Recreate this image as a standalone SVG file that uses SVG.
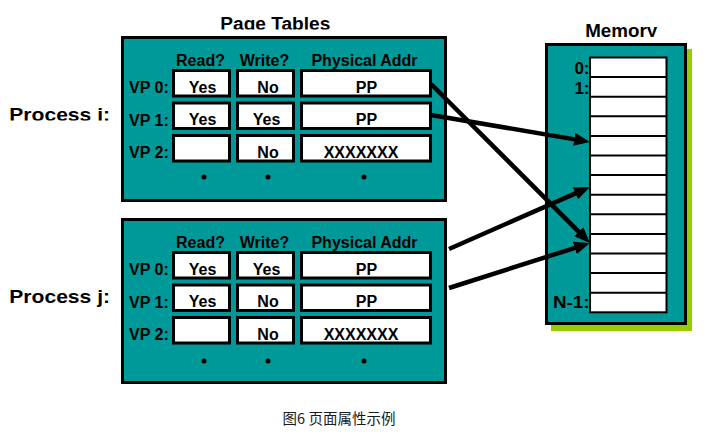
<svg xmlns="http://www.w3.org/2000/svg" width="712" height="437" viewBox="0 0 712 437">
<style>
.panel{fill:#009999;stroke:#000;stroke-width:3}
.cell{fill:#fff;stroke:#000;stroke-width:3}
.t{font-family:"Liberation Sans",Arial,sans-serif;font-weight:bold;fill:#000}
.s16{font-size:16px}
.c{text-anchor:middle}
.r{text-anchor:end}
.arrow{stroke:#000;stroke-width:4.5;fill:none;marker-end:url(#ah)}
.mem{fill:#fff;stroke:#000;stroke-width:2}
</style>
<defs>
<marker id="ah" markerUnits="userSpaceOnUse" markerWidth="16" markerHeight="13" refX="2" refY="6.5" orient="auto">
<path d="M0,0 L16,6.5 L0,13 z" fill="#000"/>
</marker>
<clipPath id="clipTitle"><rect x="0" y="0" width="712" height="29.5"/></clipPath>
<clipPath id="clipMem"><rect x="0" y="0" width="712" height="37"/></clipPath>
<clipPath id="clipPi"><rect x="0" y="90" width="130" height="30.5"/></clipPath>
</defs>

<rect width="712" height="437" fill="#fff"/>

<g id="title-page-tables">
<text class="t c" x="275.3" y="29.5" font-size="17.5" textLength="110" lengthAdjust="spacingAndGlyphs" clip-path="url(#clipTitle)">Page Tables</text>
</g>

<g id="label-process-i">
<text class="t" x="9.3" y="120.5" font-size="19" textLength="100.7" lengthAdjust="spacingAndGlyphs" clip-path="url(#clipPi)">Process i:</text>
</g>
<g id="label-process-j">
<text class="t" x="9.3" y="303" font-size="19" textLength="100.7" lengthAdjust="spacingAndGlyphs">Process j:</text>
</g>

<g id="page-table-i">
<rect class="panel" x="122.5" y="37.5" width="323" height="163"/>
<text class="t s16 c" x="200.5" y="66">Read?</text>
<text class="t s16 c" x="264.5" y="66">Write?</text>
<text class="t s16 c" x="364.5" y="66">Physical Addr</text>
<text class="t s16" x="129" y="93">VP 0:</text>
<text class="t s16" x="129" y="125.5">VP 1:</text>
<text class="t s16" x="129" y="158">VP 2:</text>
<rect class="cell" x="173.5" y="70.5" width="56" height="25.5"/>
<rect class="cell" x="237.5" y="70.5" width="56" height="25.5"/>
<rect class="cell" x="301.5" y="70.5" width="129" height="25.5"/>
<rect class="cell" x="173.5" y="103" width="56" height="25.5"/>
<rect class="cell" x="237.5" y="103" width="56" height="25.5"/>
<rect class="cell" x="301.5" y="103" width="129" height="25.5"/>
<rect class="cell" x="173.5" y="135.5" width="56" height="25.5"/>
<rect class="cell" x="237.5" y="135.5" width="56" height="25.5"/>
<rect class="cell" x="301.5" y="135.5" width="129" height="25.5"/>
<text class="t s16 c" x="202.5" y="92.5">Yes</text>
<text class="t s16 c" x="268" y="92.5">No</text>
<text class="t s16 c" x="366.5" y="92.5">PP</text>
<text class="t s16 c" x="202.5" y="125">Yes</text>
<text class="t s16 c" x="266.5" y="125">Yes</text>
<text class="t s16 c" x="366.5" y="125">PP</text>
<text class="t s16 c" x="268" y="157.5">No</text>
<text class="t s16 c" x="361" y="157.5">XXXXXXX</text>
<circle cx="204" cy="177" r="2.5" fill="#000"/>
<circle cx="268" cy="177" r="2.5" fill="#000"/>
<circle cx="364" cy="177" r="2.5" fill="#000"/>
</g>

<g id="page-table-j">
<rect class="panel" x="122.5" y="219.5" width="323" height="163"/>
<text class="t s16 c" x="200.5" y="248">Read?</text>
<text class="t s16 c" x="264.5" y="248">Write?</text>
<text class="t s16 c" x="364.5" y="248">Physical Addr</text>
<text class="t s16" x="129" y="275">VP 0:</text>
<text class="t s16" x="129" y="307.5">VP 1:</text>
<text class="t s16" x="129" y="340">VP 2:</text>
<rect class="cell" x="173.5" y="252.5" width="56" height="25.5"/>
<rect class="cell" x="237.5" y="252.5" width="56" height="25.5"/>
<rect class="cell" x="301.5" y="252.5" width="129" height="25.5"/>
<rect class="cell" x="173.5" y="285" width="56" height="25.5"/>
<rect class="cell" x="237.5" y="285" width="56" height="25.5"/>
<rect class="cell" x="301.5" y="285" width="129" height="25.5"/>
<rect class="cell" x="173.5" y="317.5" width="56" height="25.5"/>
<rect class="cell" x="237.5" y="317.5" width="56" height="25.5"/>
<rect class="cell" x="301.5" y="317.5" width="129" height="25.5"/>
<text class="t s16 c" x="202.5" y="274.5">Yes</text>
<text class="t s16 c" x="266.5" y="274.5">Yes</text>
<text class="t s16 c" x="366.5" y="274.5">PP</text>
<text class="t s16 c" x="202.5" y="307">Yes</text>
<text class="t s16 c" x="268" y="307">No</text>
<text class="t s16 c" x="366.5" y="307">PP</text>
<text class="t s16 c" x="268" y="339.5">No</text>
<text class="t s16 c" x="361" y="339.5">XXXXXXX</text>
<circle cx="204" cy="361" r="2.5" fill="#000"/>
<circle cx="268" cy="361" r="2.5" fill="#000"/>
<circle cx="364" cy="361" r="2.5" fill="#000"/>
</g>

<g id="memory">
<text class="t c" x="621.2" y="37" font-size="17.5" textLength="72" lengthAdjust="spacingAndGlyphs" clip-path="url(#clipMem)">Memory</text>
<rect x="551" y="49" width="141" height="282" fill="#99cc00"/>
<rect class="panel" x="546.5" y="44.5" width="139" height="279"/>
<rect class="mem" x="590" y="57.5" width="76.5" height="254.8"/>
<path d="M590,77.1H666.5M590,96.7H666.5M590,116.3H666.5M590,135.9H666.5M590,155.5H666.5M590,175.1H666.5M590,194.7H666.5M590,214.3H666.5M590,233.9H666.5M590,253.5H666.5M590,273.1H666.5M590,292.7H666.5" stroke="#000" stroke-width="2" fill="none"/>
<text class="t r" x="589.5" y="74" font-size="17">0:</text>
<text class="t r" x="589.5" y="93.5" font-size="17">1:</text>
<text class="t r" x="589.5" y="308" font-size="17" textLength="36.5" lengthAdjust="spacingAndGlyphs">N-1:</text>
</g>

<g id="connectors">
<line class="arrow" x1="431" y1="84" x2="580.1" y2="233.1"/>
<line class="arrow" x1="431" y1="115" x2="576.2" y2="139.6"/>
<line class="arrow" x1="449" y1="249" x2="577.2" y2="192.6"/>
<line class="arrow" x1="449" y1="288" x2="576.7" y2="247.3"/>
</g>

<g id="caption">
<text x="339" y="423.5" text-anchor="middle" font-family="'Noto Sans CJK SC','Noto Sans',sans-serif" font-size="14.5" fill="#1a1a1a">图6 页面属性示例</text>
</g>
</svg>
